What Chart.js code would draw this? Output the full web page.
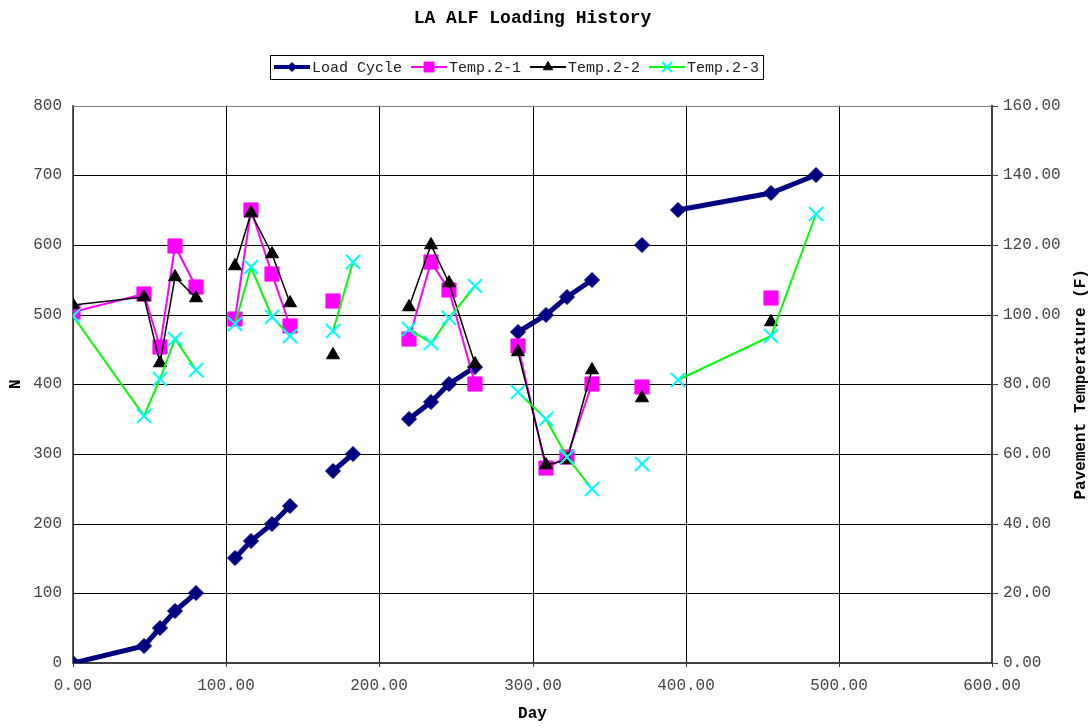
<!DOCTYPE html>
<html>
<head>
<meta charset="utf-8">
<title>LA ALF Loading History</title>
<script src="https://cdn.jsdelivr.net/npm/chart.js@4.4.1/dist/chart.umd.min.js"></script>
<style>
  html, body { margin: 0; padding: 0; background: #fff; }
  #wrap { width: 1092px; height: 728px; }
</style>
</head>
<body>
<div id="wrap"><canvas id="loadChart" width="1092" height="728"></canvas></div>
<script>
// one entry per sheet row, null = blank row (line breaks there)
const days      = [0, 46.3, 56.8, 66.4, 80.5, null, 105.7, 116, 129.8, 141.4, null, 169.9, 182.5, null, 219.5, 234, 245.3, 262.4, null, 290.7, 308.5, 322.6, 338.6, null, 371.8, null, 395.2, 455.5, 485.4];
const loadCycle = [0, 25, 50, 75, 100, null, 150, 175, 200, 225, null, 275, 300, null, 350, 375, 400, 425, null, 475, 500, 525, 550, null, 600, null, 650, 675, 700];
const temp21    = [100.8, 106.0, 90.8, 119.7, 108.0, null, 98.7, 129.9, 111.7, 96.8, null, 104.0, null, null, 93.0, 115.2, 107.1, 80.1, null, 91.0, 55.9, 59.1, 80.1, null, 79.1, null, null, 104.7, null];
const temp22    = [102.8, 105.0, 86.1, 110.8, 104.7, null, 114.0, 129.1, 117.4, 103.3, null, 88.5, null, null, 102.1, 120.0, 109.2, 85.9, null, 89.4, 56.9, 58.3, 84.2, null, 76.0, null, null, 98.0, null];
const temp23    = [99.5, 70.8, 81.5, 93.0, 84.0, null, 97.3, 113.8, 99.3, 93.9, null, 95.2, 115.2, null, 95.8, 91.8, 99.0, 108.1, null, 77.9, 70.0, 59.1, 49.9, null, 57.1, null, 81.3, 93.9, 128.9];

const monoFont = "'Liberation Mono', 'Courier New', monospace";
const tickColor = '#444';

function toPoints(values) {
    return days.map((d, i) => ({ x: d, y: values[i] }));
}

// small legend radius per series, drawn by the plugin below
const legendMarks = [4.5, 7, 5.5, 7];

const extras = {
    id: 'extras',
    afterDraw(chart) {
        const ctx = chart.ctx;
        const area = chart.chartArea;

        // right axis title reads bottom-to-top like the left one
        ctx.save();
        ctx.font = 'bold 16px ' + monoFont;
        ctx.fillStyle = '#000';
        ctx.textAlign = 'center';
        ctx.textBaseline = 'middle';
        ctx.translate(1081, (area.top + area.bottom) / 2);
        ctx.rotate(-Math.PI / 2);
        ctx.fillText('Pavement Temperature (F)', 0, 0);
        ctx.restore();

        // legend with line + marker samples inside a box
        ctx.save();
        ctx.font = '15px ' + monoFont;
        ctx.textBaseline = 'middle';
        ctx.textAlign = 'left';
        const y = 67;
        const startX = 274;
        let x = startX;
        chart.data.datasets.forEach((ds, i) => {
            ctx.strokeStyle = ds.borderColor;
            ctx.lineWidth = i === 0 ? 4 : 2;
            ctx.beginPath();
            ctx.moveTo(x, y);
            ctx.lineTo(x + 36, y);
            ctx.stroke();

            ctx.fillStyle = ds.pointBackgroundColor;
            ctx.strokeStyle = ds.pointBorderColor;
            ctx.lineWidth = ds.pointBorderWidth;
            Chart.helpers.drawPoint(ctx, {
                pointStyle: ds.pointStyle,
                radius: legendMarks[i],
                rotation: 0,
                borderWidth: ds.pointBorderWidth
            }, x + 18, y);

            ctx.fillStyle = '#222';
            ctx.fillText(ds.label, x + 38, y + 1);
            x += 38 + ctx.measureText(ds.label).width + 9;
        });
        ctx.strokeStyle = '#000';
        ctx.lineWidth = 1;
        ctx.strokeRect(270.5, 55.5, x - startX - 1, 24);
        ctx.restore();
    }
};

const ctx = document.getElementById('loadChart').getContext('2d');

new Chart(ctx, {
    type: 'line',
    data: {
        datasets: [{
            label: 'Load Cycle',
            data: toPoints(loadCycle),
            yAxisID: 'y',
            borderColor: '#000080',
            borderWidth: 5,
            pointStyle: 'rectRot',
            pointRadius: 7.5,
            pointBackgroundColor: '#000080',
            pointBorderColor: '#000080',
            pointBorderWidth: 1,
            order: 4
        }, {
            label: 'Temp.2-1',
            data: toPoints(temp21),
            yAxisID: 'y2',
            borderColor: '#FF00FF',
            borderWidth: 2,
            pointStyle: 'rect',
            pointRadius: 10,
            pointBackgroundColor: '#FF00FF',
            pointBorderColor: '#FF00FF',
            pointBorderWidth: 1,
            order: 3
        }, {
            label: 'Temp.2-2',
            data: toPoints(temp22),
            yAxisID: 'y2',
            borderColor: '#000000',
            borderWidth: 1.5,
            pointStyle: 'triangle',
            pointRadius: 7.5,
            pointBackgroundColor: '#000000',
            pointBorderColor: '#000000',
            pointBorderWidth: 1,
            order: 2
        }, {
            label: 'Temp.2-3',
            data: toPoints(temp23),
            yAxisID: 'y2',
            borderColor: '#00FF00',
            borderWidth: 2,
            pointStyle: 'crossRot',
            pointRadius: 10,
            pointBackgroundColor: '#00FFFF',
            pointBorderColor: '#00FFFF',
            pointBorderWidth: 2,
            order: 1
        }]
    },
    options: {
        responsive: false,
        devicePixelRatio: 1,
        animation: false,
        events: [],
        spanGaps: false,
        layout: { padding: 0 },
        plugins: {
            legend: { display: false },
            tooltip: { enabled: false },
            title: {
                display: true,
                text: 'LA ALF Loading History',
                fullSize: false,
                color: '#000',
                font: { family: monoFont, size: 18, weight: 'bold' },
                padding: { top: 8, bottom: 76 }
            }
        },
        scales: {
            x: {
                type: 'linear',
                min: 0,
                max: 600,
                alignToPixels: true,
                ticks: {
                    stepSize: 100,
                    maxRotation: 0,
                    padding: 9,
                    color: tickColor,
                    font: { family: monoFont, size: 16 },
                    callback: v => v.toFixed(2)
                },
                grid: { color: '#000', tickLength: 4, tickColor: '#404040' },
                border: { color: '#404040', width: 2 },
                title: {
                    display: true,
                    text: 'Day',
                    color: '#000',
                    font: { family: monoFont, size: 16, weight: 'bold' },
                    padding: { top: 0, bottom: 4 }
                },
                afterFit: s => { s.height = 65; }
            },
            y: {
                position: 'left',
                min: 0,
                max: 800,
                alignToPixels: true,
                ticks: {
                    stepSize: 100,
                    padding: 11,
                    color: tickColor,
                    font: { family: monoFont, size: 16 }
                },
                grid: {
                    drawTicks: false,
                    color: c => (c.tick && c.tick.value === 800) ? '#808080' : '#000'
                },
                border: { color: '#606060', width: 1.5 },
                title: {
                    display: true,
                    text: 'N',
                    color: '#000',
                    font: { family: monoFont, size: 16, weight: 'bold' },
                    padding: { top: 6, bottom: 0 }
                },
                afterFit: s => { s.width = 73; }
            },
            y2: {
                position: 'right',
                min: 0,
                max: 160,
                alignToPixels: true,
                ticks: {
                    stepSize: 20,
                    padding: 5,
                    color: tickColor,
                    font: { family: monoFont, size: 16 },
                    callback: v => v.toFixed(2)
                },
                grid: { drawOnChartArea: false, tickLength: 6, color: '#404040' },
                border: { color: '#404040', width: 2 },
                afterFit: s => { s.width = 100; }
            }
        }
    },
    plugins: [extras]
});
</script>
</body>
</html>
